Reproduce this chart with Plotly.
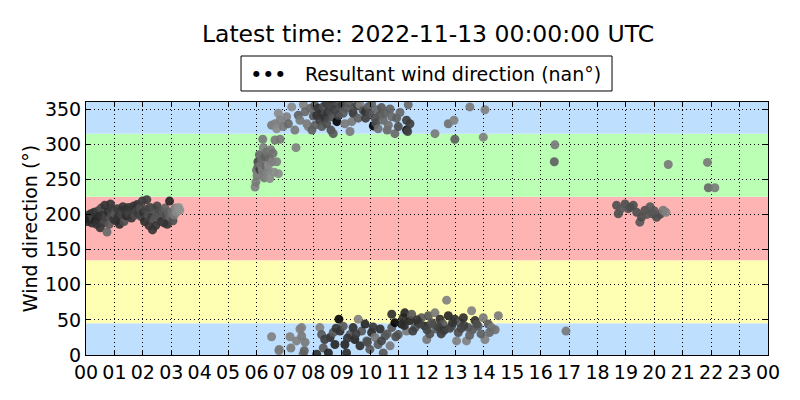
import plotly.graph_objects as go

# wind direction bands (degrees) and their fill colours
band_edges = [0, 45, 135, 225, 315, 360]
band_colors = ['#bfdfff', '#ffffb4', '#ffb4b4', '#bbffb5', '#bfdfff']

hour_ticks = list(range(0, 25))
hour_labels = ['%02d' % h for h in range(24)] + ['00']
dir_ticks = [0, 50, 100, 150, 200, 250, 300, 350]

# night cluster, southerly
a_hours = [0.00, 0.03, 0.08, 0.12, 0.17, 0.20, 0.25, 0.28, 0.33, 0.37,
           0.42, 0.45, 0.50, 0.53, 0.58, 0.62, 0.66, 0.70, 0.74, 0.78,
           0.82, 0.86, 0.90, 0.94, 0.98, 1.02, 1.06, 1.10, 1.14, 1.18,
           1.22, 1.26, 1.30, 1.34, 1.38, 1.42, 1.46, 1.50, 1.55, 1.60,
           1.64, 1.68, 1.72, 1.76, 1.80, 1.85, 1.90, 1.94, 1.98, 2.02,
           2.06, 2.10, 2.14, 2.18, 2.22, 2.26, 2.30, 2.34, 2.38, 2.42,
           2.45, 2.50, 2.54, 2.58, 2.62, 2.66, 2.70, 2.74, 2.78, 2.82,
           2.86, 2.90, 2.94, 2.98, 3.02, 3.06, 3.10, 3.14, 3.18, 3.22,
           3.26, 3.30]
a_dirs = [195, 190, 199, 193, 201, 188, 196, 203, 191, 186,
          205, 197, 181, 209, 199, 188, 213, 196, 175, 204,
          186, 215, 199, 207, 193, 201, 191, 208, 197, 186,
          205, 200, 211, 190, 207, 198, 203, 210, 200, 195,
          206, 212, 199, 204, 214, 201, 209, 197, 219, 203,
          190, 207, 221, 199, 184, 210, 196, 178, 208, 194,
          184, 212, 201, 196, 205, 190, 202, 188, 209, 198,
          186, 203, 219, 196, 204, 191, 199, 209, 203, 207,
          210, 206]
a_shades = [0.30, 0.25, 0.35, 0.20, 0.30, 0.25, 0.40, 0.30, 0.20, 0.30,
            0.35, 0.25, 0.30, 0.45, 0.30, 0.35, 0.30, 0.40, 0.60, 0.25,
            0.50, 0.30, 0.45, 0.35, 0.30, 0.50, 0.30, 0.35, 0.30, 0.25,
            0.35, 0.40, 0.30, 0.45, 0.30, 0.25, 0.35, 0.30, 0.40, 0.30,
            0.35, 0.30, 0.45, 0.40, 0.30, 0.35, 0.45, 0.40, 0.35, 0.30,
            0.25, 0.40, 0.35, 0.45, 0.30, 0.40, 0.35, 0.30, 0.45, 0.50,
            0.30, 0.40, 0.45, 0.50, 0.45, 0.30, 0.50, 0.35, 0.55, 0.45,
            0.30, 0.55, 0.20, 0.60, 0.65, 0.45, 0.70, 0.75, 0.80, 0.80,
            0.85, 0.85]

# morning veer through west
b_hours = [5.95, 5.98, 6.00, 6.02, 6.05, 6.05, 6.08, 6.10, 6.12, 6.15,
           6.18, 6.20, 6.22, 6.24, 6.27, 6.30, 6.33, 6.36, 6.40, 6.42,
           6.45, 6.47, 6.50, 6.55, 6.58, 6.62, 6.65, 6.71, 6.77, 6.83,
           7.39]
b_dirs = [239, 246, 263, 255, 275, 268, 258, 285, 264, 270,
          278, 262, 307, 295, 252, 282, 268, 289, 262, 270,
          280, 251, 292, 275, 287, 260, 306, 275, 258, 307,
          295]
b_shades = [0.75, 0.70, 0.65, 0.70, 0.40, 0.60, 0.75, 0.60, 0.35, 0.70,
            0.65, 0.75, 0.70, 0.75, 0.70, 0.55, 0.60, 0.65, 0.75, 0.80,
            0.60, 0.80, 0.70, 0.75, 0.65, 0.80, 0.70, 0.75, 0.80, 0.70,
            0.75]

# northerly, upper side
c_hours = [6.53, 6.65, 6.71, 6.77, 6.83, 6.94, 7.06, 7.12, 7.24, 7.35,
           7.47, 7.53, 7.65, 7.71, 7.77, 7.82, 7.90, 7.95, 8.00, 8.05,
           8.06, 8.12, 8.17, 8.23, 8.29, 8.30, 8.35, 8.41, 8.45, 8.47,
           8.53, 8.59, 8.62, 8.65, 8.70, 8.70, 8.76, 8.83, 8.88, 8.94,
           9.00, 9.05, 9.11, 9.17, 9.25, 9.29, 9.35, 9.40, 9.46, 9.55,
           9.58, 9.64, 9.75, 9.82, 9.84, 9.93, 9.99, 10.05, 10.11, 10.17,
           10.20, 10.23, 10.28, 10.35, 10.40, 10.46, 10.52, 10.60, 10.64, 10.70,
           10.76, 10.87, 10.93, 10.99, 11.05, 11.28, 11.28, 11.32, 11.34, 11.40,
           12.28, 12.75, 12.95, 12.98, 13.51, 13.98, 14.04]
c_dirs = [327, 329, 322, 344, 334, 325, 339, 329, 353, 320,
          341, 334, 356, 346, 329, 325, 351, 320, 340, 355,
          327, 341, 351, 334, 344, 325, 353, 337, 358, 329,
          346, 356, 320, 339, 315, 357, 349, 332, 341, 353,
          357, 344, 329, 351, 358, 318, 332, 344, 353, 355,
          337, 356, 348, 346, 337, 353, 344, 357, 326, 337,
          330, 349, 322, 341, 352, 334, 344, 320, 327, 350,
          339, 315, 337, 325, 345, 334, 320, 318, 356, 329,
          315, 329, 334, 307, 353, 310, 349]
c_shades = [0.70, 0.75, 0.80, 0.80, 0.75, 0.70, 0.75, 0.60, 0.80, 0.70,
            0.55, 0.70, 0.75, 0.60, 0.70, 0.75, 0.60, 0.55, 0.50, 0.50,
            0.55, 0.30, 0.30, 0.35, 0.30, 0.50, 0.45, 0.30, 0.35, 0.45,
            0.30, 0.40, 0.45, 0.45, 0.50, 0.40, 0.35, 0.00, 0.40, 0.45,
            0.35, 0.50, 0.70, 0.50, 0.50, 0.70, 0.70, 0.30, 0.45, 0.40,
            0.55, 0.75, 0.50, 0.30, 0.35, 0.50, 0.45, 0.55, 0.00, 0.45,
            0.45, 0.60, 0.65, 0.50, 0.50, 0.60, 0.55, 0.60, 0.65, 0.55,
            0.60, 0.60, 0.55, 0.45, 0.60, 0.35, 0.05, 0.40, 0.60, 0.35,
            0.70, 0.65, 0.75, 0.55, 0.70, 0.75, 0.75]

# northerly to north-easterly, lower side
d_hours = [6.53, 6.79, 6.80, 7.18, 7.21, 7.41, 7.53, 7.59, 7.59, 7.64,
           7.68, 7.71, 8.12, 8.23, 8.29, 8.35, 8.53, 8.59, 8.70, 8.76,
           8.90, 8.94, 9.05, 9.11, 9.17, 9.29, 9.40, 9.46, 9.58, 9.64,
           9.70, 9.82, 9.88, 9.99, 10.05, 10.17, 10.28, 10.35, 10.46, 10.52,
           10.70, 10.76, 10.76, 10.87, 10.99, 11.11, 11.16, 11.22, 11.28, 11.40,
           11.46, 11.58, 11.69, 11.81, 11.93, 11.99, 12.05, 12.16, 12.28, 12.34,
           12.46, 12.57, 12.69, 12.75, 12.87, 12.98, 13.04, 13.16, 13.28, 13.39,
           13.45, 13.57, 13.69, 13.80, 13.98, 14.04, 14.16, 14.27, 14.51, 16.89,
           11.50, 11.75, 12.10, 12.40, 12.60, 12.80, 13.10, 13.30, 13.60, 13.90,
           11.20, 11.65, 12.00, 12.20, 12.50, 12.90, 13.20, 13.50, 13.75, 14.20,
           9.20, 9.50, 9.90, 10.10, 10.40, 8.40, 8.80, 10.60, 10.90, 14.40]
d_dirs = [26, 6, 8, 26, 10, 20, 37, 27, 39, 1,
          6, 18, 1, 39, 29, 10, 3, 25, 32, 15,
          51, 34, 41, 15, 3, 29, 39, 22, 51, 13,
          34, 44, 20, 8, 32, 25, 15, 37, 3, 27,
          13, 58, 39, 46, 29, 44, 53, 60, 34, 49,
          58, 39, 46, 53, 41, 22, 56, 46, 60, 37,
          51, 44, 78, 56, 41, 51, 20, 46, 53, 20,
          39, 63, 49, 41, 53, 22, 44, 39, 56, 34,
          34, 44, 30, 40, 35, 38, 32, 42, 36, 30,
          42, 50, 36, 44, 30, 46, 38, 28, 44, 32,
          24, 30, 18, 40, 20, 22, 38, 30, 26, 36]
d_shades = [0.75, 0.75, 0.70, 0.75, 0.70, 0.75, 0.75, 0.70, 0.75, 0.65,
            0.55, 0.70, 0.25, 0.75, 0.50, 0.50, 0.20, 0.25, 0.50, 0.20,
            0.00, 0.25, 0.50, 0.20, 0.25, 0.50, 0.25, 0.20, 0.75, 0.25,
            0.50, 0.20, 0.50, 0.50, 0.25, 0.70, 0.50, 0.25, 0.50, 0.50,
            0.70, 0.25, 0.50, 0.00, 0.50, 0.20, 0.25, 0.20, 0.70, 0.20,
            0.50, 0.50, 0.25, 0.50, 0.20, 0.70, 0.50, 0.50, 0.70, 0.50,
            0.25, 0.50, 0.75, 0.20, 0.50, 0.25, 0.75, 0.50, 0.25, 0.75,
            0.50, 0.75, 0.25, 0.50, 0.70, 0.75, 0.50, 0.70, 0.70, 0.70,
            0.35, 0.40, 0.45, 0.35, 0.30, 0.40, 0.45, 0.35, 0.50, 0.55,
            0.25, 0.30, 0.40, 0.45, 0.35, 0.30, 0.40, 0.55, 0.45, 0.60,
            0.30, 0.35, 0.45, 0.30, 0.40, 0.35, 0.30, 0.50, 0.45, 0.65]

# evening, sparse
e_hours = [16.48, 16.50, 18.67, 18.73, 18.97, 19.08, 19.26, 19.38, 19.49, 19.55,
           19.67, 19.85, 19.94, 20.08, 20.20, 20.31, 20.41, 20.49, 21.87, 21.90,
           22.13, 18.80, 19.15, 19.75, 20.00]
e_dirs = [275, 299, 213, 201, 215, 208, 213, 203, 189, 196,
          206, 211, 201, 196, 200, 206, 203, 271, 274, 238,
          238, 207, 210, 200, 205]
e_shades = [0.55, 0.70, 0.45, 0.45, 0.45, 0.50, 0.45, 0.45, 0.50, 0.45,
            0.45, 0.50, 0.45, 0.45, 0.45, 0.70, 0.75, 0.70, 0.70, 0.60,
            0.70, 0.50, 0.45, 0.50, 0.50]

hours = a_hours + b_hours + c_hours + d_hours + e_hours
dirs = a_dirs + b_dirs + c_dirs + d_dirs + e_dirs
shades = a_shades + b_shades + c_shades + d_shades + e_shades

fig = go.Figure()
fig.add_scatter(x=hours, y=dirs, mode='markers', showlegend=False,
                marker=dict(size=9, color=shades, cmin=0, cmax=1, opacity=0.9,
                            colorscale=[[0, '#000000'], [1, '#ababab']],
                            line_width=0))

for i in range(len(band_colors)):
    fig.add_shape(type='rect', xref='paper', x0=0, x1=1, yref='y',
                  y0=band_edges[i], y1=band_edges[i + 1],
                  fillcolor=band_colors[i], line_width=0, layer='below')

# matplotlib-style legend box above the axes (three scatter dots + label)
fig.add_shape(type='rect', xref='paper', yref='paper', x0=0.2273, x1=0.7713,
              y0=1.0435, y1=1.1818, line=dict(color='black', width=1),
              fillcolor='white')
for dx in [0.2493, 0.2669, 0.2859]:
    fig.add_annotation(xref='paper', yref='paper', x=dx, y=1.1146,
                       text='\u25cf', showarrow=False,
                       font=dict(size=8, color='black'), xanchor='center', yanchor='middle')
fig.add_annotation(xref='paper', yref='paper', x=0.318, y=1.1126,
                   text='Resultant wind direction (nan\u00b0)', showarrow=False,
                   font=dict(size=19, color='black'), xanchor='left', yanchor='middle')

axis_style = dict(showline=True, linecolor='black', linewidth=1, mirror='ticks',
                  ticks='inside', ticklen=5, tickcolor='black',
                  showgrid=True, gridcolor='black', griddash='1px,3px', gridwidth=1,
                  zeroline=False, tickfont=dict(size=19, color='black'))

fig.update_xaxes(range=[0, 24], tickvals=hour_ticks, ticktext=hour_labels, **axis_style)
fig.update_yaxes(range=[0, 360], tickvals=dir_ticks,
                 title=dict(text='Wind direction (\u00b0)', font=dict(size=19, color='black'),
                            standoff=2),
                 **axis_style)

# page body adds an 8px offset, so margins are shifted to land the axes at 86..768 x 102..355
fig.update_layout(width=800, height=400, plot_bgcolor='white', paper_bgcolor='white',
                  margin=dict(l=78, r=40, t=94, b=53),
                  font=dict(family='DejaVu Sans', color='black'),
                  title=dict(text='Latest time: 2022-11-13 00:00:00 UTC', x=0.525, xanchor='center',
                             y=0.935, yanchor='middle', font=dict(size=23.5, color='black')))

fig.write_html('out.html')
